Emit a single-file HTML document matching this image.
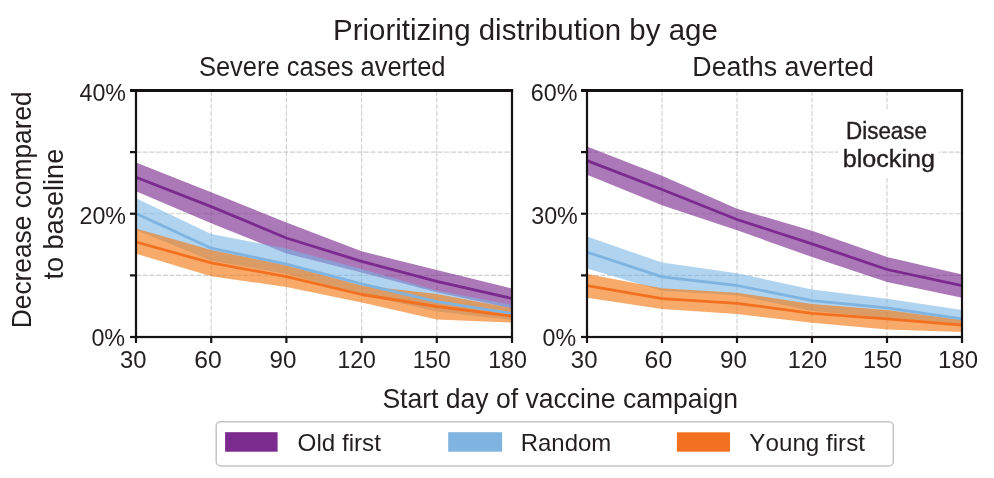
<!DOCTYPE html><html><head><meta charset="utf-8"><style>html,body{margin:0;padding:0;background:#fff;width:994px;height:478px;overflow:hidden}</style></head><body><svg width="994" height="478" viewBox="0 0 994 478" style="display:block;will-change:transform;font-family:'Liberation Sans', sans-serif;font-kerning:none;font-variant-ligatures:none">
<rect width="994" height="478" fill="#fff"/>
<line x1="211.20" y1="337.0" x2="211.20" y2="90.5" stroke="#bdbdbd" stroke-opacity="0.75" stroke-width="1.1" stroke-dasharray="5 1.7"/>
<line x1="286.40" y1="337.0" x2="286.40" y2="90.5" stroke="#bdbdbd" stroke-opacity="0.75" stroke-width="1.1" stroke-dasharray="5 1.7"/>
<line x1="361.60" y1="337.0" x2="361.60" y2="90.5" stroke="#bdbdbd" stroke-opacity="0.75" stroke-width="1.1" stroke-dasharray="5 1.7"/>
<line x1="436.80" y1="337.0" x2="436.80" y2="90.5" stroke="#bdbdbd" stroke-opacity="0.75" stroke-width="1.1" stroke-dasharray="5 1.7"/>
<line x1="136.0" y1="275.38" x2="512.0" y2="275.38" stroke="#bdbdbd" stroke-opacity="0.75" stroke-width="1.1" stroke-dasharray="5 1.7"/>
<line x1="136.0" y1="213.75" x2="512.0" y2="213.75" stroke="#bdbdbd" stroke-opacity="0.75" stroke-width="1.1" stroke-dasharray="5 1.7"/>
<line x1="136.0" y1="152.12" x2="512.0" y2="152.12" stroke="#bdbdbd" stroke-opacity="0.75" stroke-width="1.1" stroke-dasharray="5 1.7"/>
<polygon points="136.00,162.40 211.20,192.30 286.40,222.60 361.60,251.30 436.80,270.00 512.00,288.50 512.00,308.50 436.80,292.30 361.60,272.50 286.40,253.50 211.20,223.30 136.00,191.30" fill="#7b2a8e" fill-opacity="0.63"/>
<polygon points="136.00,198.20 211.20,233.90 286.40,248.60 361.60,269.00 436.80,290.50 512.00,305.00 512.00,320.00 436.80,311.40 361.60,294.50 286.40,274.00 211.20,260.70 136.00,230.00" fill="#77b5e5" fill-opacity="0.58"/>
<polygon points="136.00,228.50 211.20,250.00 286.40,265.30 361.60,285.50 436.80,294.10 512.00,308.20 512.00,322.70 436.80,319.50 361.60,302.60 286.40,287.00 211.20,276.20 136.00,253.70" fill="#f37c1a" fill-opacity="0.65"/>
<polyline points="136.00,177.30 211.20,206.60 286.40,238.00 361.60,261.40 436.80,281.30 512.00,298.50" fill="none" stroke="#7b2a8e" stroke-width="2.8" stroke-linejoin="round"/>
<polyline points="136.00,213.50 211.20,248.20 286.40,264.10 361.60,283.80 436.80,301.70 512.00,313.50" fill="none" stroke="#7fb3e0" stroke-width="2.8" stroke-linejoin="round"/>
<polyline points="136.00,242.00 211.20,262.90 286.40,276.60 361.60,294.50 436.80,306.50 512.00,316.20" fill="none" stroke="#f37021" stroke-width="2.8" stroke-linejoin="round"/>
<rect x="136.0" y="90.5" width="376.0" height="246.5" fill="none" stroke="#141213" stroke-width="2.2" stroke-linejoin="miter"/>
<line x1="130.0" y1="90.5" x2="513.1" y2="90.5" stroke="#141213" stroke-width="2.8"/>
<line x1="130.0" y1="337.00" x2="136.0" y2="337.00" stroke="#141213" stroke-width="2.2"/>
<line x1="130.0" y1="275.38" x2="136.0" y2="275.38" stroke="#141213" stroke-width="2.2"/>
<line x1="130.0" y1="213.75" x2="136.0" y2="213.75" stroke="#141213" stroke-width="2.2"/>
<line x1="130.0" y1="152.12" x2="136.0" y2="152.12" stroke="#141213" stroke-width="2.2"/>
<line x1="130.0" y1="90.50" x2="136.0" y2="90.50" stroke="#141213" stroke-width="2.2"/>
<line x1="136.00" y1="337.0" x2="136.00" y2="343.0" stroke="#141213" stroke-width="2.2"/>
<line x1="211.20" y1="337.0" x2="211.20" y2="343.0" stroke="#141213" stroke-width="2.2"/>
<line x1="286.40" y1="337.0" x2="286.40" y2="343.0" stroke="#141213" stroke-width="2.2"/>
<line x1="361.60" y1="337.0" x2="361.60" y2="343.0" stroke="#141213" stroke-width="2.2"/>
<line x1="436.80" y1="337.0" x2="436.80" y2="343.0" stroke="#141213" stroke-width="2.2"/>
<line x1="512.00" y1="337.0" x2="512.00" y2="343.0" stroke="#141213" stroke-width="2.2"/>
<text x="119.99" y="367.50" font-size="23.5" textLength="26.43" lengthAdjust="spacingAndGlyphs" fill="#231f20">30</text>
<text x="194.24" y="367.50" font-size="23.5" textLength="27.52" lengthAdjust="spacingAndGlyphs" fill="#231f20">60</text>
<text x="269.57" y="367.50" font-size="23.5" textLength="26.88" lengthAdjust="spacingAndGlyphs" fill="#231f20">90</text>
<text x="337.44" y="367.50" font-size="23.5" textLength="38.46" lengthAdjust="spacingAndGlyphs" fill="#231f20">120</text>
<text x="412.66" y="367.50" font-size="23.5" textLength="38.13" lengthAdjust="spacingAndGlyphs" fill="#231f20">150</text>
<text x="488.13" y="367.50" font-size="23.5" textLength="38.78" lengthAdjust="spacingAndGlyphs" fill="#231f20">180</text>
<text x="79.47" y="100.60" font-size="23.5" textLength="46.56" lengthAdjust="spacingAndGlyphs" fill="#231f20">40%</text>
<text x="79.48" y="224.20" font-size="23.5" textLength="46.55" lengthAdjust="spacingAndGlyphs" fill="#231f20">20%</text>
<text x="91.39" y="345.90" font-size="23.5" textLength="33.74" lengthAdjust="spacingAndGlyphs" fill="#231f20">0%</text>
<line x1="662.00" y1="337.0" x2="662.00" y2="90.5" stroke="#bdbdbd" stroke-opacity="0.75" stroke-width="1.1" stroke-dasharray="5 1.7"/>
<line x1="737.00" y1="337.0" x2="737.00" y2="90.5" stroke="#bdbdbd" stroke-opacity="0.75" stroke-width="1.1" stroke-dasharray="5 1.7"/>
<line x1="812.00" y1="337.0" x2="812.00" y2="90.5" stroke="#bdbdbd" stroke-opacity="0.75" stroke-width="1.1" stroke-dasharray="5 1.7"/>
<line x1="887.00" y1="337.0" x2="887.00" y2="90.5" stroke="#bdbdbd" stroke-opacity="0.75" stroke-width="1.1" stroke-dasharray="5 1.7"/>
<line x1="587.0" y1="275.38" x2="962.0" y2="275.38" stroke="#bdbdbd" stroke-opacity="0.75" stroke-width="1.1" stroke-dasharray="5 1.7"/>
<line x1="587.0" y1="213.75" x2="962.0" y2="213.75" stroke="#bdbdbd" stroke-opacity="0.75" stroke-width="1.1" stroke-dasharray="5 1.7"/>
<line x1="587.0" y1="152.12" x2="962.0" y2="152.12" stroke="#bdbdbd" stroke-opacity="0.75" stroke-width="1.1" stroke-dasharray="5 1.7"/>
<polygon points="587.00,146.40 662.00,175.70 737.00,208.80 812.00,230.70 887.00,256.90 962.00,274.40 962.00,297.70 887.00,282.00 812.00,257.00 737.00,230.20 662.00,205.20 587.00,174.70" fill="#7b2a8e" fill-opacity="0.63"/>
<polygon points="587.00,236.40 662.00,262.60 737.00,273.20 812.00,289.50 887.00,298.80 962.00,310.10 962.00,324.00 887.00,318.00 812.00,311.00 737.00,295.20 662.00,290.80 587.00,268.40" fill="#77b5e5" fill-opacity="0.58"/>
<polygon points="587.00,274.00 662.00,288.30 737.00,292.80 812.00,303.90 887.00,309.90 962.00,320.10 962.00,332.00 887.00,329.60 812.00,322.70 737.00,314.00 662.00,308.90 587.00,297.70" fill="#f37c1a" fill-opacity="0.65"/>
<polyline points="587.00,160.60 662.00,189.50 737.00,219.50 812.00,243.90 887.00,269.50 962.00,285.70" fill="none" stroke="#7b2a8e" stroke-width="2.8" stroke-linejoin="round"/>
<polyline points="587.00,252.10 662.00,276.90 737.00,285.50 812.00,300.60 887.00,307.90 962.00,318.90" fill="none" stroke="#7fb3e0" stroke-width="2.8" stroke-linejoin="round"/>
<polyline points="587.00,285.60 662.00,298.70 737.00,303.30 812.00,313.30 887.00,318.90 962.00,325.20" fill="none" stroke="#f37021" stroke-width="2.8" stroke-linejoin="round"/>
<rect x="587.0" y="90.5" width="375.0" height="246.5" fill="none" stroke="#141213" stroke-width="2.2" stroke-linejoin="miter"/>
<line x1="581.0" y1="90.5" x2="963.1" y2="90.5" stroke="#141213" stroke-width="2.8"/>
<line x1="581.0" y1="337.00" x2="587.0" y2="337.00" stroke="#141213" stroke-width="2.2"/>
<line x1="581.0" y1="275.38" x2="587.0" y2="275.38" stroke="#141213" stroke-width="2.2"/>
<line x1="581.0" y1="213.75" x2="587.0" y2="213.75" stroke="#141213" stroke-width="2.2"/>
<line x1="581.0" y1="152.12" x2="587.0" y2="152.12" stroke="#141213" stroke-width="2.2"/>
<line x1="581.0" y1="90.50" x2="587.0" y2="90.50" stroke="#141213" stroke-width="2.2"/>
<line x1="587.00" y1="337.0" x2="587.00" y2="343.0" stroke="#141213" stroke-width="2.2"/>
<line x1="662.00" y1="337.0" x2="662.00" y2="343.0" stroke="#141213" stroke-width="2.2"/>
<line x1="737.00" y1="337.0" x2="737.00" y2="343.0" stroke="#141213" stroke-width="2.2"/>
<line x1="812.00" y1="337.0" x2="812.00" y2="343.0" stroke="#141213" stroke-width="2.2"/>
<line x1="887.00" y1="337.0" x2="887.00" y2="343.0" stroke="#141213" stroke-width="2.2"/>
<line x1="962.00" y1="337.0" x2="962.00" y2="343.0" stroke="#141213" stroke-width="2.2"/>
<text x="570.89" y="367.50" font-size="23.5" textLength="26.65" lengthAdjust="spacingAndGlyphs" fill="#231f20">30</text>
<text x="644.64" y="367.50" font-size="23.5" textLength="27.63" lengthAdjust="spacingAndGlyphs" fill="#231f20">60</text>
<text x="719.97" y="367.50" font-size="23.5" textLength="26.88" lengthAdjust="spacingAndGlyphs" fill="#231f20">90</text>
<text x="787.81" y="367.50" font-size="23.5" textLength="39.32" lengthAdjust="spacingAndGlyphs" fill="#231f20">120</text>
<text x="863.01" y="367.50" font-size="23.5" textLength="39.10" lengthAdjust="spacingAndGlyphs" fill="#231f20">150</text>
<text x="938.08" y="367.50" font-size="23.5" textLength="39.96" lengthAdjust="spacingAndGlyphs" fill="#231f20">180</text>
<text x="530.81" y="100.60" font-size="23.5" textLength="46.72" lengthAdjust="spacingAndGlyphs" fill="#231f20">60%</text>
<text x="531.21" y="224.00" font-size="23.5" textLength="46.62" lengthAdjust="spacingAndGlyphs" fill="#231f20">30%</text>
<text x="542.59" y="346.30" font-size="23.5" textLength="33.53" lengthAdjust="spacingAndGlyphs" fill="#231f20">0%</text>
<rect x="838" y="111" width="101" height="66" fill="#fff"/>
<text x="846.06" y="138.60" font-size="23.5" textLength="80.93" lengthAdjust="spacingAndGlyphs" fill="#231f20" stroke="#231f20" stroke-width="0.4">Disease</text>
<text x="842.78" y="167.10" font-size="23.5" textLength="92.14" lengthAdjust="spacingAndGlyphs" fill="#231f20" stroke="#231f20" stroke-width="0.4">blocking</text>
<text x="333.08" y="39.50" font-size="29.5" textLength="384.72" lengthAdjust="spacingAndGlyphs" fill="#231f20">Prioritizing distribution by age</text>
<text x="198.94" y="76.10" font-size="27" textLength="246.60" lengthAdjust="spacingAndGlyphs" fill="#231f20">Severe cases averted</text>
<text x="692.30" y="76.20" font-size="27" textLength="181.62" lengthAdjust="spacingAndGlyphs" fill="#231f20">Deaths averted</text>
<text x="382.39" y="407.90" font-size="28" textLength="355.63" lengthAdjust="spacingAndGlyphs" fill="#231f20">Start day of vaccine campaign</text>
<text transform="rotate(-90)" x="-328.26" y="31.00" font-size="28" textLength="236.95" lengthAdjust="spacingAndGlyphs" fill="#231f20">Decrease compared</text>
<text transform="rotate(-90)" x="-279.61" y="63.00" font-size="28" textLength="130.81" lengthAdjust="spacingAndGlyphs" fill="#231f20">to baseline</text>
<rect x="216.2" y="421.8" width="677.1" height="44.1" rx="4.5" fill="#fff" stroke="#c4c4c4" stroke-width="1.5"/>
<rect x="225.1" y="432.2" width="52.5" height="19.5" fill="#7b2a8e"/>
<rect x="448.2" y="432.2" width="53.9" height="19.5" fill="#7fb3e0"/>
<rect x="676.9" y="432.3" width="53.1" height="19.4" fill="#f37021"/>
<text x="297.55" y="450.90" font-size="24" textLength="83.42" lengthAdjust="spacingAndGlyphs" fill="#231f20">Old first</text>
<text x="520.73" y="450.90" font-size="24" textLength="90.54" lengthAdjust="spacingAndGlyphs" fill="#231f20">Random</text>
<text x="749.37" y="451.00" font-size="24" textLength="115.61" lengthAdjust="spacingAndGlyphs" fill="#231f20">Young first</text>
</svg></body></html>
